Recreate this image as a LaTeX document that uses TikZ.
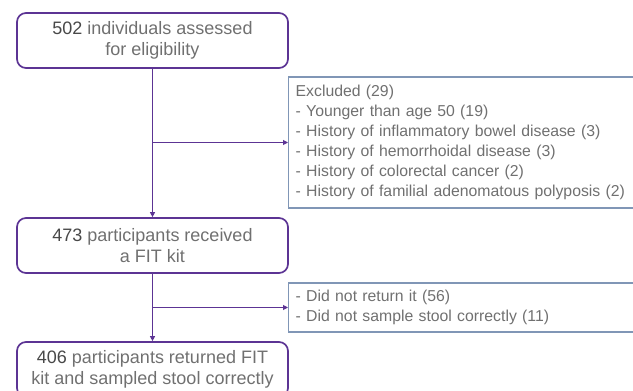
\documentclass[tikz,border=0pt]{standalone}
\usepackage{fontspec}
\setmainfont{Liberation Sans}
\usetikzlibrary{arrows.meta,positioning}
\definecolor{flowpurple}{RGB}{92,52,148}
\definecolor{sideblue}{RGB}{128,150,182}
\definecolor{flowtext}{RGB}{112,112,112}
\definecolor{flownum}{RGB}{72,72,72}
\tikzset{
  mainbox/.style={draw=flowpurple,line width=1.7pt,rounded corners=9pt,
    minimum width=271pt,minimum height=55pt,inner sep=0pt,align=center,
    text=flowtext,font=\fontsize{18}{21}\selectfont},
  sidebox/.style={draw=sideblue,line width=1.4pt,anchor=west,inner xsep=7pt,
    inner ysep=0pt,text width=338pt,align=left,text=flowtext,
    font=\fontsize{15.8}{20}\selectfont},
  flowline/.style={draw=flowpurple,line width=1pt,-{Triangle[length=5pt,width=5pt]}}
}
\begin{document}
\begin{tikzpicture}[x=1pt,y=-1pt]
    \useasboundingbox (0,0) rectangle (633,391);
    \clip (0,0) rectangle (633,391);
    \coordinate(P1)at(152.5,40.5);
    \coordinate(P2)at(152.5,245.5);
    \coordinate(P3)at(152.5,369.5);
    \coordinate(Q1)at(288,142.5);
    \coordinate(Q2)at(288,307.5);
    \node[mainbox](assessed)at(P1){\textcolor{flownum}{502} individuals assessed\\for eligibility};
    \node[mainbox](received)at(P2){\textcolor{flownum}{473} participants received\\a FIT kit};
    \node[mainbox](returned)at(P3){\textcolor{flownum}{406} participants returned FIT\\kit and sampled stool correctly};
    \node[sidebox,minimum height=131pt](excluded)at(Q1){Excluded (29)\\
      - Younger than age 50 (19)\\
      - History of inflammatory bowel disease (3)\\
      - History of hemorrhoidal disease (3)\\
      - History of colorectal cancer (2)\\
      - History of familial adenomatous polyposis (2)};
    \node[sidebox,minimum height=49pt](notreturned)at(Q2){- Did not return it (56)\\
      - Did not sample stool correctly (11)};
    \draw[flowline](assessed)--(received);
    \draw[flowline](assessed.south|-excluded.west)--(excluded.west);
    \draw[flowline](received)--(returned);
    \draw[flowline](received.south|-notreturned.west)--(notreturned.west);
  \end{tikzpicture}
\end{document}
